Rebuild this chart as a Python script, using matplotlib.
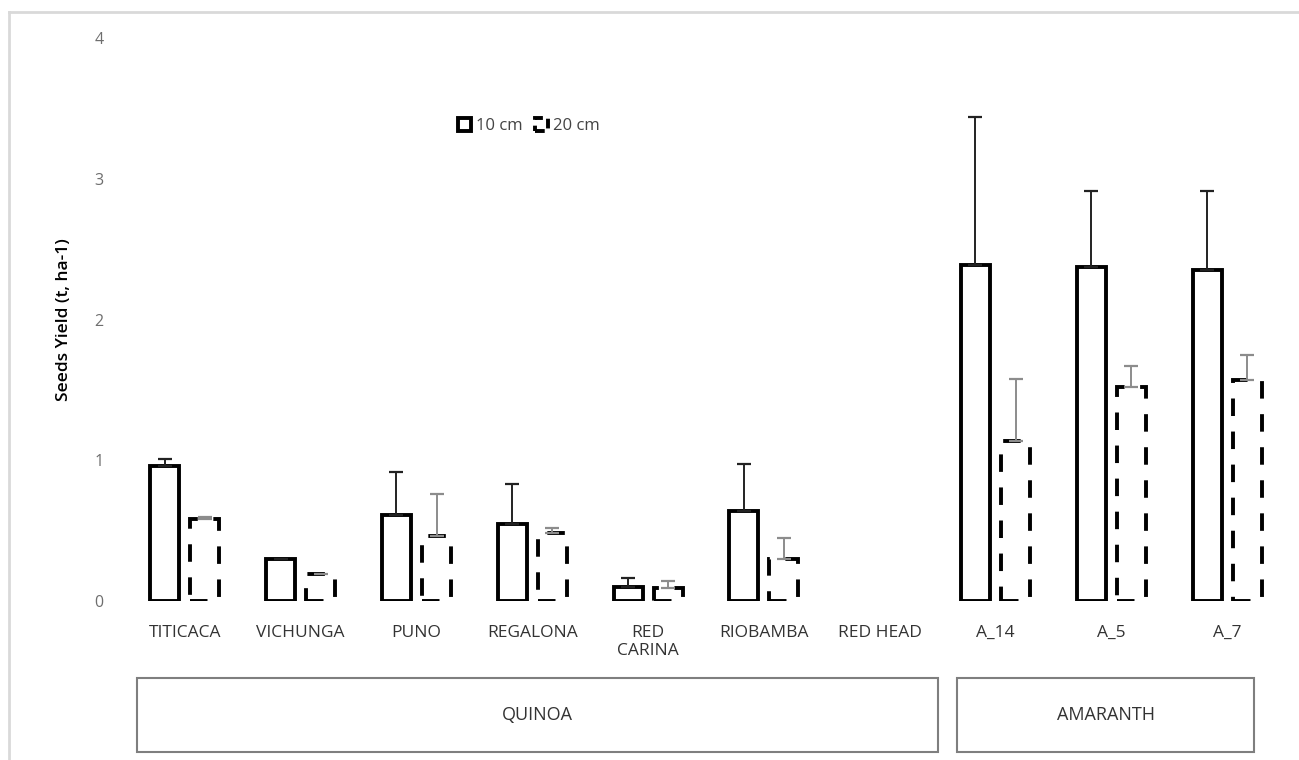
import numpy as np
import matplotlib.pyplot as plt
from matplotlib.patches import Patch, Rectangle
import matplotlib.transforms as mtransforms

plt.rcParams['font.family'] = ['Open Sans', 'DejaVu Sans']

# Seed yield per variety at two row spacings
varieties = ["TITICACA", "VICHUNGA", "PUNO", "REGALONA", "RED\nCARINA",
             "RIOBAMBA", "RED HEAD", "A_14", "A_5", "A_7"]
yield_10cm = [0.96, 0.30, 0.61, 0.55, 0.10, 0.64, 0.0, 2.39, 2.37, 2.35]
err_10cm = [0.05, 0.0, 0.31, 0.28, 0.06, 0.33, 0.0, 1.05, 0.54, 0.56]
yield_20cm = [0.58, 0.19, 0.46, 0.48, 0.09, 0.30, 0.0, 1.14, 1.52, 1.57]
err_20cm = [0.02, 0.0, 0.30, 0.04, 0.05, 0.15, 0.0, 0.44, 0.15, 0.18]

groups = ["QUINOA", "AMARANTH"]
group_sizes = [7, 3]

fig = plt.figure(figsize=(12.99, 7.60), dpi=100)
ax = fig.add_axes([127 / 1299, 1 - 601 / 760, 1158 / 1299, 563 / 760])

x = np.arange(len(varieties))
w = 0.25
off = 0.173

y10 = np.array(yield_10cm)
y20 = np.array(yield_20cm)
y10 = np.where(y10 > 0, y10, np.nan)
y20 = np.where(y20 > 0, y20, np.nan)

ax.bar(x - off, y10, w, facecolor='white', edgecolor='black', linewidth=2.8)
ax.bar(x + off, y20, w, facecolor='white', edgecolor='black', linewidth=2.8,
       linestyle=(0, (4.5, 4.0)))

# upper error bars only
e10 = np.where(np.array(err_10cm) > 0, err_10cm, np.nan)
e20 = np.where(np.array(err_20cm) > 0, err_20cm, np.nan)
ax.errorbar(x - off, y10, yerr=[np.zeros_like(e10), e10], fmt='none',
            ecolor='#222222', elinewidth=1.4, capsize=5, capthick=1.6)
ax.errorbar(x + off, y20, yerr=[np.zeros_like(e20), e20], fmt='none',
            ecolor='#8c8c8c', elinewidth=1.4, capsize=5, capthick=1.6)

ax.set_xlim(-0.5, len(varieties) - 0.5)
ax.set_ylim(0, 4)
ax.set_yticks([0, 1, 2, 3, 4])
ax.tick_params(axis='y', length=0, pad=17, labelsize=11.5, labelcolor='#6e6e6e')
ax.set_xticks(x)
ax.set_xticklabels(varieties, fontsize=12.5, color='#333333', linespacing=1.2)
ax.tick_params(axis='x', length=0, pad=17)
for s in ax.spines.values():
    s.set_visible(False)

ax.set_ylabel("Seeds Yield (t, ha-1)", fontsize=12.5, fontweight='semibold',
              labelpad=16)

ax.legend(handles=[Patch(facecolor='white', edgecolor='black', linewidth=2.8,
                         label='10 cm'),
                   Patch(facecolor='white', edgecolor='black', linewidth=2.8,
                         linestyle=(0, (2.5, 1.5)), label='20 cm')],
          loc='center', bbox_to_anchor=(0.347, 0.843), ncol=2, frameon=False,
          fontsize=12, handlelength=0.8, handleheight=0.8, handletextpad=0.3,
          columnspacing=0.7, labelcolor='#444444')

# group boxes under the category labels
trans = mtransforms.blended_transform_factory(ax.transData, ax.transAxes)
start = -0.5
pads = [(0.09, 0.0), (0.17, 0.27)]
for name, n, (pl, pr) in zip(groups, group_sizes, pads):
    x0 = start + pl
    x1 = start + n - pr
    ax.add_patch(Rectangle((x0, -0.268), x1 - x0, 0.131, transform=trans,
                           fill=False, edgecolor='#7f7f7f', linewidth=1.5,
                           clip_on=False))
    ax.text((x0 + x1) / 2, -0.2025, name, transform=trans, ha='center',
            va='center', fontsize=13, color='#333333')
    start += n

# light frame on the top and left
fig.add_artist(plt.Line2D([9 / 1299, 9 / 1299], [0, 1 - 12 / 760],
                          color='#d9d9d9', linewidth=2))
fig.add_artist(plt.Line2D([9 / 1299, 1], [1 - 12 / 760, 1 - 12 / 760],
                          color='#d9d9d9', linewidth=2))

fig.savefig('out.png', dpi=100, facecolor='white')
